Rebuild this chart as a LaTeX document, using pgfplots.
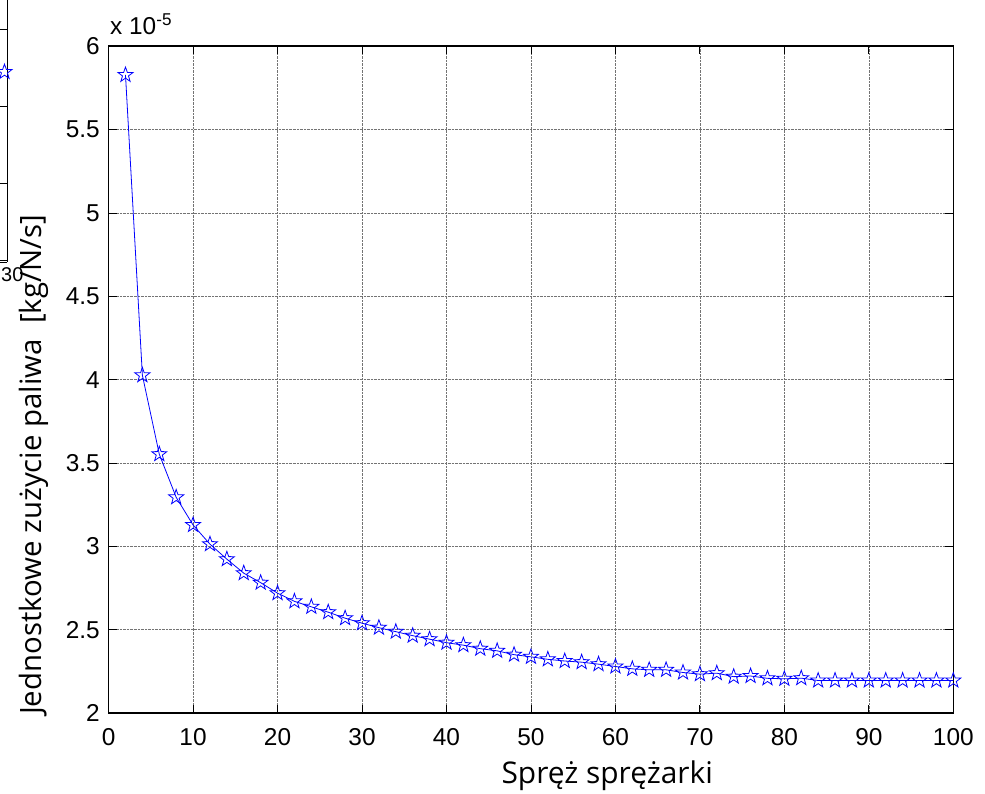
\documentclass[border=0pt]{standalone}
\usepackage{fontspec}
\setmainfont{Liberation Sans}
\newfontfamily\labelfont{Open Sans}
\usepackage{pgfplots}
\pgfplotsset{compat=1.18}
\pgfdeclareplotmark{ostar}{%
  \pgfpathmoveto{\pgfpointpolar{90}{\pgfplotmarksize}}%
  \pgfpathlineto{\pgfpointpolar{126}{0.4\pgfplotmarksize}}%
  \pgfpathlineto{\pgfpointpolar{162}{\pgfplotmarksize}}%
  \pgfpathlineto{\pgfpointpolar{198}{0.4\pgfplotmarksize}}%
  \pgfpathlineto{\pgfpointpolar{234}{\pgfplotmarksize}}%
  \pgfpathlineto{\pgfpointpolar{270}{0.4\pgfplotmarksize}}%
  \pgfpathlineto{\pgfpointpolar{306}{\pgfplotmarksize}}%
  \pgfpathlineto{\pgfpointpolar{342}{0.4\pgfplotmarksize}}%
  \pgfpathlineto{\pgfpointpolar{18}{\pgfplotmarksize}}%
  \pgfpathlineto{\pgfpointpolar{54}{0.4\pgfplotmarksize}}%
  \pgfpathclose\pgfusepathqstroke}
\pgfplotstableread{
x y
2 5.828
4 4.026
6 3.553
8 3.294
10 3.128
12 3.013
14 2.923
16 2.839
18 2.782
20 2.719
22 2.670
24 2.637
26 2.605
28 2.569
30 2.539
32 2.512
34 2.488
36 2.464
38 2.443
40 2.422
42 2.407
44 2.386
46 2.373
48 2.350
50 2.337
52 2.322
54 2.312
56 2.305
58 2.293
60 2.279
62 2.265
64 2.259
66 2.259
68 2.243
70 2.233
72 2.239
74 2.218
76 2.222
78 2.208
80 2.205
82 2.209
84 2.195
86 2.195
88 2.195
90 2.195
92 2.195
94 2.195
96 2.195
98 2.195
100 2.195
}\datatable
\begin{document}
\begin{tikzpicture}
\path[use as bounding box] (-108.6bp,-81bp) rectangle (876.4bp,713bp);
\begin{axis}[
  at={(0,0)}, anchor=south west,
  scale only axis, width=844.7bp, height=666.7bp,
  xmin=0, xmax=100, ymin=2, ymax=6,
  xtick={0,10,...,100}, ytick={2,2.5,...,6},
  tick align=inside, major tick length=8bp,
  tick style={black, line width=0.8bp},
  axis line style={black, line width=1.6bp},
  grid=major, major grid style={densely dotted, black!55, line width=0.6bp},
  /pgf/number format/assume math mode=true,
  tick label style={font=\fontsize{24.5}{29}\selectfont},
  xticklabel style={inner sep=0pt, yshift=-15bp},
  yticklabel style={inner sep=0pt, xshift=-8.6bp},
  clip=false
]
\addplot[blue, line width=0.8bp, mark=ostar, mark size=7.9bp, mark options={solid, line width=0.8bp}] table[x=x, y=y] {\datatable};
\end{axis}
\node[anchor=base west, inner sep=0pt, font=\fontsize{24.5}{29}\selectfont] at (1.4bp,678bp) {x 10\textsuperscript{-5}};
\node[anchor=base east, inner sep=0pt, font=\labelfont\fontsize{30}{36}\selectfont] at (604.4bp,-70bp) {Spręż sprężarki};
\node[rotate=90, anchor=base east, inner sep=0pt, font=\labelfont\fontsize{29.5}{36}\selectfont] at (-66.6bp,498bp) {Jednostkowe zużycie paliwa\ \ [kg/N/s]};
% fragment of neighbouring figure at the left edge
\draw[black, line width=1.2bp] (-101.3bp,451bp) -- (-101.3bp,720bp);
\draw[black, line width=0.8bp] (-115bp,451bp) -- (-101.3bp,451bp);
\foreach \yy in {684,607,530,453} {\draw[black, line width=0.8bp] (-112bp,\yy bp) -- (-101.3bp,\yy bp);}
\node[anchor=north west, inner sep=0pt, font=\fontsize{20}{24}\selectfont] at (-107.6bp,446bp) {30};
\begin{axis}[hide axis, at={(-108.6bp,613bp)}, anchor=south west, scale only axis,
  width=100bp, height=100bp, xmin=0, xmax=100, ymin=0, ymax=100, clip=false]
\addplot[blue, only marks, mark=ostar, mark size=7.9bp, mark options={line width=0.8bp}] coordinates {(4.5,28)};
\end{axis}
\end{tikzpicture}
\end{document}
